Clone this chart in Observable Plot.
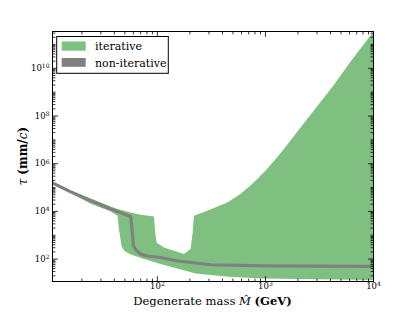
<!DOCTYPE html>
<html><head><meta charset="utf-8">
<script src="https://cdn.jsdelivr.net/npm/d3@7"></script>
<script src="https://cdn.jsdelivr.net/npm/@observablehq/plot@0.6"></script>
<style>body{margin:0;background:#fff}#chart svg{display:block}#chart svg text{font-family:"DejaVu Serif","Liberation Serif",serif}</style>
</head><body><div id="chart"></div><script>
// Upper boundary of the "iterative" band
const upperMass = [10.7, 15.8, 24.2, 37, 42.8, 56.6, 70.2, 93, 95.4, 98.5, 115, 176, 203, 212, 218, 290, 443, 587, 780, 1000, 1250, 1476, 2104, 3000, 4275, 6095, 9660, 10000];
const upperTau  = [1.75e5, 7.6e4, 3.5e4, 1.6e4, 1.26e4, 9.1e3, 7.3e3, 6.1e3, 1.26e3, 480, 307, 162, 263, 1.26e3, 6.6e3, 1.07e4, 2.37e4, 5.4e4, 1.63e5, 5.1e5, 1.6e6, 4.0e6, 3.2e7, 2.5e8, 1.95e9, 1.86e10, 2.8e11, 3.5e11];
// Lower boundary of the "iterative" band
const lowerMass = [10.7, 15.8, 24.2, 37, 42.8, 44, 46.5, 49.2, 56, 75.3, 107, 226, 455, 932, 10000];
const lowerTau  = [1.4e5, 5.8e4, 2.1e4, 1.0e4, 6.6e3, 1.9e3, 360, 222, 160, 100, 62, 25, 18, 15.5, 13.2];
// "non-iterative" curve
const grayMass = [10.7, 15.8, 24.2, 37, 56.6, 58.5, 60, 64.4, 70, 80, 107, 150, 310, 1000, 10000];
const grayTau  = [1.55e5, 6.6e4, 2.8e4, 1.25e4, 6.1e3, 1.5e3, 360, 222, 162, 135, 117, 85, 58, 52, 50];

// Ticks
const xMajor = [100, 1000, 10000];
const xMinor = [20,30,40,50,60,70,80,90,200,300,400,500,600,700,800,900,2000,3000,4000,5000,6000,7000,8000,9000];
const yMajor = [1e2, 1e4, 1e6, 1e8, 1e10];
const yMinor = [];
for (let k = 1; k <= 11; k++) {
  for (let s = 1; s <= 9; s++) {
    const v = s * Math.pow(10, k);
    if (s === 1 && k % 2 === 0 && k >= 2 && k <= 10) continue;
    if (v >= 11.5 && v <= 3.5e11) yMinor.push(v);
  }
}

const green = "#7fbf7f", gray = "#808080";
const font = '"DejaVu Serif", "Liberation Serif", serif';

const poly = upperMass.map((m, i) => ({m, t: upperTau[i]}))
  .concat(lowerMass.map((m, i) => ({m, t: lowerTau[i]})).reverse());
const grayData = grayMass.map((m, i) => ({m, t: grayTau[i]}));

const tickShape = {draw(ctx, l) { ctx.moveTo(0, 0); ctx.lineTo(0, -l); }};
const tk = (data, channel, anchor, rotate, len) => Plot.vector(data, {
  [channel]: d => d, frameAnchor: anchor, length: len, rotate, anchor: "start",
  shape: tickShape, stroke: "black", strokeWidth: 0.8
});

const chart = Plot.plot({
  width: 415, height: 312,
  marginLeft: 52, marginRight: 42, marginTop: 31, marginBottom: 31,
  x: {type: "log", domain: [10.7, 1e4], axis: null},
  y: {type: "log", domain: [11.5, 3.5e11], axis: null},
  style: {fontFamily: font, background: "white", color: "black"},
  marks: [
    Plot.line(poly, {x: "m", y: "t", fill: green, stroke: "none", clip: true}),
    Plot.line(grayData, {x: "m", y: "t", stroke: gray, strokeWidth: 3.2, clip: true}),
    tk(xMajor, "x", "bottom", 0, 5), tk(xMinor, "x", "bottom", 0, 2.5),
    tk(xMajor, "x", "top", 180, 5), tk(xMinor, "x", "top", 180, 2.5),
    tk(yMajor, "y", "left", 90, 5), tk(yMinor, "y", "left", 90, 2.5),
    tk(yMajor, "y", "right", -90, 5), tk(yMinor, "y", "right", -90, 2.5),
    Plot.frame({stroke: "black", strokeWidth: 1}),
    Plot.text(xMajor, {x: d => d, frameAnchor: "bottom", dy: 7, text: d => "10^" + Math.round(Math.log10(d)), textAnchor: "middle", fontSize: 8.5, fill: "black"}),
    Plot.text(yMajor, {y: d => d, frameAnchor: "left", dx: -3, text: d => "10^" + Math.round(Math.log10(d)), textAnchor: "end", fontSize: 8.5, fill: "black"})
  ]
});

const svg = d3.select(chart);
svg.selectAll("text").each(function() {
  const m = /^10\^(\d+)$/.exec(this.textContent);
  if (m) {
    const t = d3.select(this);
    t.text("");
    t.append("tspan").text("10");
    t.append("tspan").attr("dy", "-0.45em").attr("font-size", 6).text(m[1]);
  }
});

// Axis titles
const xl = svg.append("text").attr("x", 212.5).attr("y", 305).attr("text-anchor", "middle")
  .attr("font-size", 11.6).attr("fill", "black");
xl.append("tspan").text("Degenerate mass ");
xl.append("tspan").attr("font-style", "italic").text("M\u0302");
xl.append("tspan").text(" ");
xl.append("tspan").attr("font-weight", "bold").text("(GeV)");

const yl = svg.append("text").attr("transform", "translate(26.5,156) rotate(-90)").attr("text-anchor", "middle")
  .attr("font-size", 12).attr("fill", "black");
yl.append("tspan").attr("font-style", "italic").text("\u03C4");
yl.append("tspan").text(" ");
yl.append("tspan").attr("font-weight", "bold").text("(mm/");
yl.append("tspan").attr("font-style", "italic").text("c");
yl.append("tspan").attr("font-weight", "bold").text(")");

// Legend
const lg = svg.append("g").attr("font-size", 11).attr("text-anchor", "start");
lg.append("rect").attr("x", 56.7).attr("y", 36.5).attr("width", 111.6).attr("height", 36.8)
  .attr("fill", "white").attr("stroke", "black").attr("stroke-width", 1);
lg.append("rect").attr("x", 61.7).attr("y", 41.5).attr("width", 24).attr("height", 9.2).attr("fill", green);
lg.append("rect").attr("x", 61.7).attr("y", 58).attr("width", 24).attr("height", 8.8).attr("fill", gray);
lg.append("text").attr("x", 95).attr("y", 50.2).attr("fill", "black").text("iterative");
lg.append("text").attr("x", 95).attr("y", 66.5).attr("fill", "black").text("non-iterative");

document.getElementById("chart").appendChild(chart);
</script></body></html>
